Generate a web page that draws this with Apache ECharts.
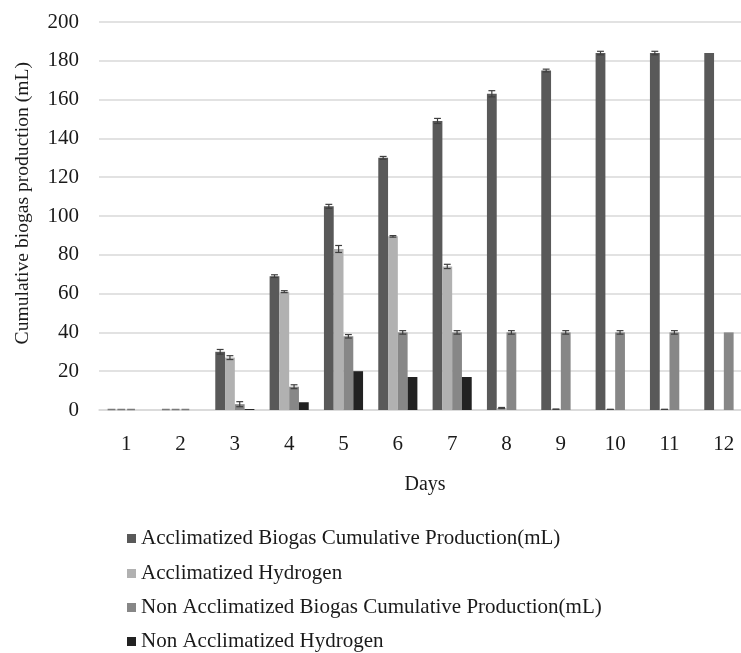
<!DOCTYPE html>
<html>
<head>
<meta charset="utf-8">
<script src="https://cdn.jsdelivr.net/npm/echarts@6/dist/echarts.min.js"></script>
<style>
html,body{margin:0;padding:0;background:#fff;}
#chart{width:741px;height:653px;}
</style>
</head>
<body>
<div id="chart"></div>
<script>
var days = ['1','2','3','4','5','6','7','8','9','10','11','12'];
var seriesNames = [
  'Acclimatized Biogas Cumulative Production(mL)',
  'Acclimatized Hydrogen',
  'Non Acclimatized Biogas Cumulative Production(mL)',
  'Non Acclimatized Hydrogen'
];
var accBiogas    = [0, 0, 30, 69, 105, 130, 149, 163, 175, 184, 184, 184];
var accHydrogen  = [0, 0, 27, 61, 83, 89.5, 74, 1, 0.4, 0.3, 0.3, null];
var nonBiogas    = [0, 0, 3, 12, 38, 40, 40, 40, 40, 40, 40, 40];
var nonHydrogen  = [0, 0, 0.5, 4, 20, 17, 17, 0, 0, 0, 0, null];
var accBiogasErr   = [0, 0, 1.2, 0.7, 1, 0.7, 1.3, 1.6, 0.7, 0.9, 0.9, null];
var accHydrogenErr = [0, 0, 1, 0.5, 1.8, 0.4, 1.1, 0.3, 0, 0, 0, null];
var nonBiogasErr   = [0, 0, 1.3, 1, 0.9, 0.9, 0.9, 0.9, 0.9, 0.9, 0.9, null];
var yTicks = [0, 20, 40, 60, 80, 100, 120, 140, 160, 180, 200];

var colors = ['#595959', '#b1b1b1', '#878787', '#222222'];
var values = [accBiogas, accHydrogen, nonBiogas, nonHydrogen];
var errs = [accBiogasErr, accHydrogenErr, nonBiogasErr, null];
var GAP = 0.28;
var NB = 4;
var serif = '"Liberation Serif", "DejaVu Serif", serif';

var series = [];
for (var i = 0; i < NB; i++) {
  series.push({
    name: seriesNames[i],
    type: 'bar',
    data: values[i],
    barGap: '0%',
    barCategoryGap: (GAP * 100) + '%',
    itemStyle: { color: colors[i] },
    emphasis: { disabled: true },
    z: 2
  });
}
for (var s = 0; s < 3; s++) {
  (function (idx) {
    var data = [];
    for (var k = 0; k < days.length; k++) {
      if (values[idx][k] != null && errs[idx][k] != null) {
        data.push([k, values[idx][k], errs[idx][k]]);
      }
    }
    series.push({
      type: 'custom',
      name: 'err' + idx,
      data: data,
      z: 5,
      silent: true,
      clip: false,
      renderItem: function (params, api) {
        var k = api.value(0), v = api.value(1), e = api.value(2);
        var band = api.size([1, 0])[0];
        var bw = band * (1 - GAP) / NB;
        var center = api.coord([k, 0])[0];
        var x = center - band * (1 - GAP) / 2 + (idx + 0.5) * bw;
        var top = api.coord([k, v + e])[1];
        var bot = api.coord([k, Math.max(0, v - e)])[1];
        var style = { stroke: '#3f3f3f', lineWidth: 1.2 };
        if (e === 0 && v === 0) {
          var y0 = api.coord([k, 0])[1];
          return { type: 'line', shape: { x1: x - bw / 2 + 1, y1: y0 - 0.5, x2: x + bw / 2 - 1, y2: y0 - 0.5 }, style: { stroke: '#7a7a7a', lineWidth: 1.5 } };
        }
        var cw = bw * 0.35;
        return {
          type: 'group',
          children: [
            { type: 'line', shape: { x1: x, y1: top, x2: x, y2: bot }, style: style },
            { type: 'line', shape: { x1: x - cw, y1: top, x2: x + cw, y2: top }, style: style },
            { type: 'line', shape: { x1: x - cw, y1: bot, x2: x + cw, y2: bot }, style: style }
          ]
        };
      }
    });
  })(s);
}

var legendCenters = [539, 574, 608, 642];
var legends = seriesNames.map(function (n, j) {
  return {
    orient: 'vertical',
    left: 127,
    top: legendCenters[j] - 11,
    data: [n],
    itemWidth: 9,
    itemHeight: 9,
    itemStyle: { borderWidth: 0 },
    textStyle: { fontFamily: serif, fontSize: 21, color: '#1a1a1a' },
    itemTextGap: 9,
    icon: 'rect',
    padding: 0,
    selectedMode: false
  };
});

var chart = echarts.init(document.getElementById('chart'));
chart.setOption({
  animation: false,
  backgroundColor: '#ffffff',
  textStyle: { fontFamily: serif },
  grid: { left: 99, right: -10, top: 22, bottom: 243, containLabel: false, outerBoundsMode: 'none' },
  legend: legends,
  xAxis: {
    type: 'category',
    data: days,
    name: 'Days',
    nameLocation: 'middle',
    nameGap: 65,
    nameTextStyle: { fontFamily: serif, fontSize: 20, color: '#1a1a1a' },
    axisLine: { lineStyle: { color: '#d9d9d9', width: 1.5 } },
    axisTick: { show: false },
    axisLabel: { fontFamily: serif, fontSize: 21, color: '#1a1a1a', margin: 24 }
  },
  yAxis: {
    type: 'value',
    min: 0,
    max: 200,
    interval: 20,
    axisLine: { show: false },
    axisTick: { show: false },
    axisLabel: { fontFamily: serif, fontSize: 21, color: '#1a1a1a', margin: 20 },
    splitLine: { lineStyle: { color: '#d9d9d9', width: 1.5 } }
  },
  graphic: [{
    type: 'text',
    left: 13,
    top: 62,
    rotation: Math.PI / 2,
    style: {
      text: 'Cumulative biogas production (mL)',
      font: '19.6px ' + serif,
      fill: '#1a1a1a'
    }
  }],
  series: series
});
</script>
</body>
</html>
